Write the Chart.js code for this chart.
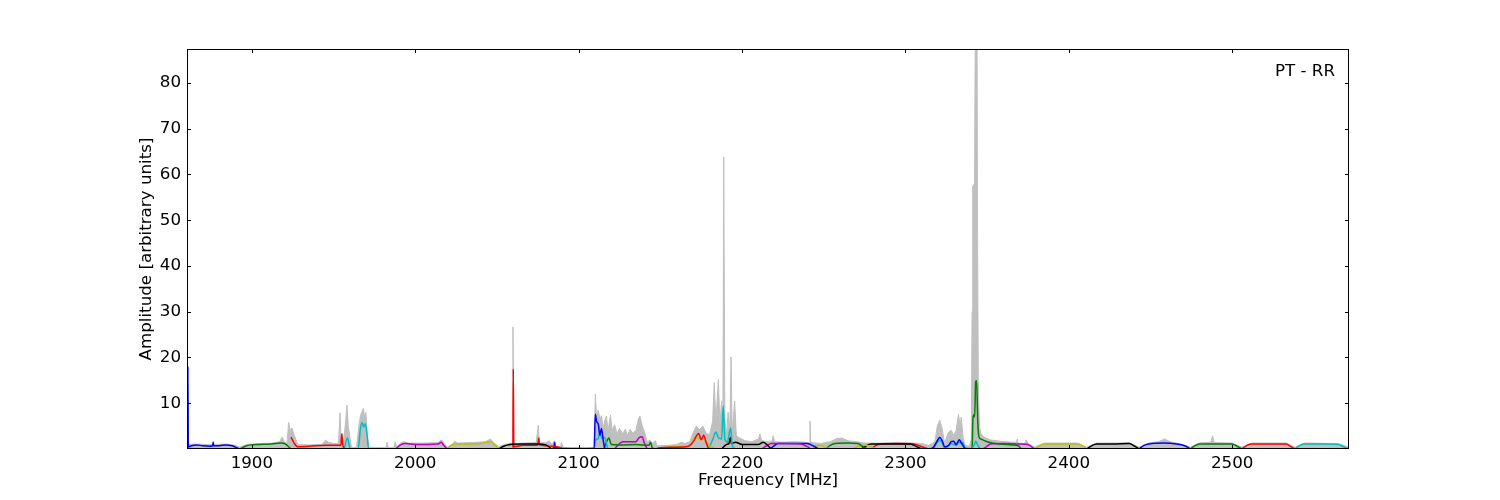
<!DOCTYPE html>
<html>
<head>
<meta charset="utf-8">
<script src="https://cdn.jsdelivr.net/npm/chart.js@4.4.0/dist/chart.umd.min.js"></script>
<style>
html, body { margin: 0; padding: 0; background: #fff; }
</style>
</head>
<body>
<canvas id="myChart" width="1500" height="500"></canvas>
<script>
// Axis limits and tick labels
const freqMin = 1860.3;
const freqMax = 2571.5;
const ampMax = 87.4;
const freqTicks = [1900, 2000, 2100, 2200, 2300, 2400, 2500];
const ampTicks = [10, 20, 30, 40, 50, 60, 70, 80];
const panelLabel = 'PT - RR';

// Grey envelope: [frequency MHz, amplitude]
const envelope = [
    [1860.8, 18], [1861.1, 1.0], [1866, 1.1], [1872, 1.0], [1876, 1.0], [1876.3, 1.7], [1876.6, 1.0],
    [1884, 1.1], [1890, 0.8], [1892.5, 0.4], [1897, 1.0], [1905, 1.2], [1912, 1.3], [1917, 1.6],
    [1918.5, 2.6], [1920, 1.5], [1921.5, 1.2], [1922.5, 5.8], [1923.5, 4.0], [1924.5, 4.6], [1926, 3.0],
    [1928, 1.0], [1935, 0.9], [1943, 1.0], [1945, 1.9], [1947, 1.5], [1950, 1.2], [1953, 1.2],
    [1954, 7.9], [1954.6, 2.0], [1955.5, 3.5], [1956, 1.0], [1957.5, 6.5], [1958.2, 9.6], [1959, 5.0],
    [1960, 2.5], [1961, 0.4], [1964, 0.3], [1965.5, 5.0], [1966.5, 7.4], [1967.5, 8.2], [1968.2, 8.9],
    [1969, 7.0], [1969.8, 8.0], [1970.5, 4.0], [1971.5, 0.4], [1982, 0.3], [1982.8, 1.5], [1983.5, 0.3],
    [1987, 0.3], [1987.8, 1.6], [1988.5, 0.4], [1991, 1.3], [1993, 1.6], [1996, 1.3], [2005, 1.3],
    [2014, 1.4], [2016, 2.0], [2017.5, 1.3], [2019.5, 0.4], [2023, 1.1], [2024, 1.7], [2026, 1.3],
    [2035, 1.4], [2043, 1.6], [2046, 2.2], [2048, 1.4], [2051, 0.5], [2055, 1.0], [2059.5, 1.3],
    [2059.8, 26.7], [2060.5, 1.2], [2066, 1.3], [2074, 1.4], [2075.3, 5.2], [2076, 1.3], [2080, 1.4],
    [2082, 1.8], [2083.5, 1.0], [2085.3, 1.8], [2086, 0.6], [2089, 0.5], [2089.5, 1.5], [2090.5, 0.4],
    [2095, 0.2], [2105, 0.2], [2109.5, 0.3], [2110.2, 12], [2111, 7], [2112, 8.5], [2113, 6.5],
    [2114, 7.3], [2115, 4.5], [2116, 6.3], [2117, 7.2], [2118, 4.0], [2119.5, 7.4], [2120.5, 4.0],
    [2122, 5.3], [2123.5, 3.3], [2125, 4.5], [2127, 3.3], [2128.5, 4.3], [2130, 3.0], [2131.5, 4.3],
    [2133, 3.5], [2135, 4.0], [2136.5, 6.5], [2137.5, 7.2], [2139, 5.0], [2140.5, 3.5], [2142, 1.5],
    [2143.5, 2.0], [2145, 1.2], [2147, 1.8], [2148, 0.7], [2155, 0.8], [2160, 1.0], [2163, 1.5],
    [2165, 1.2], [2168, 1.6], [2170, 3.5], [2172, 5.0], [2174, 4.2], [2176, 5.0], [2178, 3.5],
    [2180, 3.0], [2182, 6.0], [2183, 14.5], [2184, 6.0], [2185.5, 15.2], [2186.5, 5.5], [2187.5, 10.5],
    [2188.3, 5.0], [2188.8, 63.8], [2189.5, 6.5], [2190.5, 3.0], [2191.5, 8.0], [2192.5, 4.0],
    [2193.3, 20.1], [2194, 3.5], [2195.5, 10.5], [2196.5, 3.0], [2198, 2.5], [2202, 1.8], [2206, 1.6],
    [2210, 2.2], [2211, 3.3], [2212, 1.8], [2216, 1.6], [2218.5, 1.8], [2219, 2.9], [2220, 1.6],
    [2225, 1.5], [2232, 1.6], [2238, 1.5], [2241.3, 1.4], [2241.6, 6.1], [2242, 1.4], [2248, 1.2],
    [2254, 1.6], [2258, 2.3], [2261, 2.4], [2265, 1.8], [2270, 1.6], [2275, 1.3], [2285, 1.3],
    [2295, 1.4], [2305, 1.3], [2310, 1.2], [2314, 0.8], [2318, 1.5], [2319.5, 5.0], [2321, 6.3],
    [2322.5, 4.5], [2324, 1.2], [2326, 3.5], [2328, 4.1], [2329.5, 3.0], [2331, 4.0], [2332.5, 7.6],
    [2333.5, 5.0], [2334.2, 7.0], [2335.3, 2.5], [2336.5, 0.8], [2339, 0.6], [2340.3, 2.0],
    [2340.8, 30], [2341.2, 57.3], [2342.3, 58], [2342.8, 95], [2343.8, 95], [2344.2, 45], [2344.6, 15],
    [2345.3, 5.0], [2346, 3.5], [2348, 2.6], [2352, 2.0], [2358, 1.7], [2365, 1.5], [2368, 1.5],
    [2368.5, 2.2], [2369, 1.3], [2373, 1.2], [2374, 2.0], [2375, 1.2], [2379, 0.4], [2385, 1.3],
    [2395, 1.3], [2405, 1.3], [2411, 0.4], [2417, 1.3], [2430, 1.3], [2437, 1.4], [2443, 0.4],
    [2449, 1.3], [2455, 1.6], [2458.5, 2.2], [2462, 1.6], [2466, 1.3], [2474.5, 0.4], [2480, 1.3],
    [2487, 1.5], [2488, 2.9], [2489, 1.4], [2500, 1.3], [2506, 0.4], [2512, 1.3], [2533, 1.3],
    [2538.5, 0.4], [2544, 1.3], [2565, 1.2], [2571.5, 0.4]
];

// Coloured sub-band curves: [frequency MHz, amplitude]
const blue1 = [[1860.8, 0], [1860.8, 18], [1861.1, 0.5], [1863, 0.7], [1866, 0.9], [1870, 0.7], [1874, 0.6], [1876, 0.7],
    [1876.3, 1.4], [1876.6, 0.7], [1880, 0.7], [1884, 0.9], [1888, 0.7], [1890, 0.4], [1892.5, 0]];
const green1 = [[1892.5, 0], [1896, 0.6], [1899, 0.9], [1905, 1.0], [1912, 1.1], [1918, 1.3], [1920, 1.2], [1924, 0]];
const red1 = [[1924, 2.6], [1926, 1.2], [1928, 0.5], [1935, 0.6], [1945, 0.8], [1950, 0.8], [1954.5, 0.8],
    [1955, 3.3], [1955.5, 1.2], [1956.5, 0]];
const cyan1 = [[1956.5, 0], [1958.5, 2.4], [1960, 0.2], [1961, 0], [1965, 0], [1966.5, 4.5], [1967.5, 5.8],
    [1968.5, 4.8], [1969.5, 5.5], [1970.5, 3.0], [1971.5, 0], [1988, 0]];
const magenta1 = [[1988, 0], [1991, 0.9], [1994, 1.2], [2000, 1.0], [2008, 1.0], [2014, 1.1], [2016, 1.5],
    [2017, 1.0], [2019.5, 0]];
const yellow1 = [[2019.5, 0], [2022, 0.8], [2025, 1.1], [2032, 1.1], [2040, 1.2], [2046, 1.6], [2048, 1.1], [2051, 0]];
const black1 = [[2051, 0], [2054, 0.6], [2058, 1.0], [2065, 1.1], [2075, 1.1], [2080, 0.9], [2083.5, 0]];
const red2 = [[2059.8, 0.3], [2060, 17.5], [2060.3, 0.5], [2066, 0.8], [2075, 0.9], [2075.6, 2.4], [2076, 0.9],
    [2085, 0.6], [2091, 0]];
const blue2 = [[2083.5, 0], [2085, 0.5], [2085.3, 1.5], [2085.6, 0.4], [2092, 0.1], [2109.5, 0.1], [2110.2, 7.6],
    [2111, 6.0], [2112, 5.5], [2113, 3.0], [2114, 4.5], [2115, 2.0], [2116, 0]];
const cyan2 = [[2109.5, 0], [2110.5, 2.0], [2112, 2.3], [2113, 3.8], [2114, 2.4], [2116, 2.5], [2117.5, 0.5], [2118, 0]];
const green2 = [[2115.5, 0], [2117, 1.5], [2118.5, 2.4], [2120, 1.0], [2125, 0.9], [2135, 1.0], [2143, 0.8],
    [2144, 1.5], [2145, 0.3], [2147, 0]];
const magenta2 = [[2122, 0], [2125, 1.2], [2127.5, 1.6], [2132, 1.6], [2135, 1.6], [2137, 2.5], [2139, 2.7],
    [2140, 1.5], [2142, 0]];
const red3 = [[2147, 0], [2150, 0.3], [2157, 0.4], [2166, 0.5], [2170, 1.5], [2172, 2.8], [2173.5, 3.4],
    [2175, 2.0], [2176.5, 3.0], [2178, 1.5], [2179.5, 0]];
const yellow2 = [[2149, 0], [2152, 0.3], [2160, 0.5], [2168, 0.6], [2170, 1.8], [2172, 2.4], [2176, 2.4],
    [2178, 1.5], [2181, 0.5], [2184, 0]];
const cyan3 = [[2179.5, 0], [2182, 2.0], [2184, 3.7], [2185.5, 2.5], [2187.5, 2.2], [2188.5, 9.4], [2189.5, 2.0],
    [2191, 1.5], [2193, 4.6], [2194, 0.8], [2196, 0]];
const black2 = [[2187.5, 0], [2190.5, 1.0], [2192, 1.2], [2192.8, 2.5], [2193.5, 1.2], [2196, 1.5], [2200, 1.0],
    [2210, 1.0], [2213, 1.5], [2215, 1.0], [2218, 0]];
const magenta3 = [[2212, 0], [2215, 0.7], [2218, 1.2], [2225, 1.2], [2236, 1.1], [2240, 0.5], [2242, 0]];
const blue3 = [[2217, 0], [2220, 0.8], [2222, 1.2], [2230, 1.2], [2240, 1.2], [2244, 0.6], [2247, 0]];
const yellow3 = [[2242.5, 0], [2245, 0.6], [2248, 0.8], [2251, 0.3], [2253, 0]];
const green3 = [[2251, 0], [2254, 0.8], [2257, 1.2], [2265, 1.3], [2271, 1.2], [2274, 0.5], [2277, 0]];
const yellow4 = [[2268, 0], [2271, 0.6], [2276, 0.8], [2280, 0.3], [2283, 0]];
const black3 = [[2273, 0], [2276, 0.7], [2279, 1.1], [2290, 1.1], [2303, 1.1], [2307, 0.5], [2310, 0]];
const red4 = [[2279, 0], [2282, 0.8], [2285, 1.1], [2295, 1.2], [2305, 1.1], [2310, 0.5], [2314, 0]];
const blue4 = [[2314, 0], [2317, 0.3], [2319.5, 1.8], [2321, 2.5], [2322.5, 1.8], [2324, 0.5], [2326.5, 0.8],
    [2328, 1.6], [2329.5, 1.7], [2331, 1.0], [2333, 2.0], [2334.5, 1.2], [2336.5, 0]];
const cyan4 = [[2314, 0], [2317, 0.2], [2319.5, 1.4], [2321, 1.9], [2322.5, 1.3], [2324, 0.2], [2326, 0.6],
    [2328, 1.2], [2329.5, 1.0], [2331, 0.8], [2333, 1.6], [2334, 1.2], [2335, 1.4], [2336.5, 0.3],
    [2340, 0.1], [2342, 0.8], [2343, 1.7], [2344, 1.0], [2345.5, 0.2], [2347.5, 0]];
const green4 = [[2339.5, 0], [2340.8, 0.3], [2341.3, 6.3], [2341.8, 7.5], [2342.4, 7.0], [2343, 14.7],
    [2343.6, 14.9], [2344.3, 6.0], [2345, 2.7], [2346, 2.2], [2350, 1.6], [2357, 1.1], [2365, 0.9],
    [2369, 0.7], [2371, 0]];
const magenta4 = [[2347.5, 0], [2350, 0.6], [2352, 1.1], [2360, 1.2], [2370, 1.1], [2375, 1.0], [2379, 0]];
const yellow5 = [[2379, 0], [2382, 0.7], [2385, 1.1], [2395, 1.1], [2405, 1.1], [2408, 0.8], [2411, 0]];
const black4 = [[2411, 0], [2414, 0.7], [2417, 1.1], [2427, 1.1], [2437, 1.2], [2440, 0.7], [2443, 0]];
const blue5 = [[2443, 0], [2446, 0.8], [2449, 1.1], [2458, 1.3], [2466, 1.1], [2471, 0.7], [2474.5, 0]];
const green5 = [[2474.5, 0], [2477, 0.7], [2480, 1.1], [2490, 1.1], [2500, 1.1], [2503, 0.6], [2506, 0]];
const red5 = [[2506, 0], [2509, 0.8], [2512, 1.1], [2522, 1.1], [2533, 1.1], [2536, 0.5], [2538.5, 0]];
const cyan5 = [[2538.5, 0], [2541, 0.7], [2544, 1.1], [2555, 1.1], [2565, 1.0], [2568, 0.5], [2571.5, 0]];

// matplotlib classic colours
const colors = { b: '#0000ff', g: '#008000', r: '#ff0000', c: '#00bfbf', m: '#bf00bf', y: '#bfbf00', k: '#000000' };

const curves = [
    [blue1, 'b'], [green1, 'g'], [red1, 'r'], [cyan1, 'c'], [magenta1, 'm'], [yellow1, 'y'], [black1, 'k'],
    [red2, 'r'], [blue2, 'b'], [cyan2, 'c'], [green2, 'g'], [magenta2, 'm'], [red3, 'r'], [yellow2, 'y'],
    [cyan3, 'c'], [black2, 'k'], [magenta3, 'm'], [blue3, 'b'], [yellow3, 'y'], [green3, 'g'], [yellow4, 'y'],
    [black3, 'k'], [red4, 'r'], [blue4, 'b'], [cyan4, 'c'], [green4, 'g'], [magenta4, 'm'], [yellow5, 'y'],
    [black4, 'k'], [blue5, 'b'], [green5, 'g'], [red5, 'r'], [cyan5, 'c']
];

function toPoints(arr) {
    return arr.map(p => ({ x: p[0], y: p[1] }));
}

const datasets = [{
    data: toPoints(envelope),
    borderColor: '#bfbfbf',
    backgroundColor: '#bfbfbf',
    borderWidth: 1,
    fill: 'origin',
    pointRadius: 0,
    tension: 0,
    clip: 0,
    order: 2
}];
curves.forEach(c => {
    datasets.push({
        data: toPoints(c[0]),
        borderColor: colors[c[1]],
        borderWidth: 1.5,
        fill: false,
        pointRadius: 0,
        cubicInterpolationMode: 'monotone',
        clip: 0,
        order: 1
    });
});

// Frame, inward ticks on all four sides, and the corner label
const framePlugin = {
    id: 'frame',
    afterDatasetsDraw(chart) {
        const ctx = chart.ctx;
        const a = chart.chartArea;
        const xs = chart.scales.x, ys = chart.scales.y;
        ctx.save();
        ctx.strokeStyle = '#000';
        ctx.lineWidth = 1;
        ctx.beginPath();
        freqTicks.forEach(v => {
            const px = Math.round(xs.getPixelForValue(v)) + 0.5;
            ctx.moveTo(px, a.bottom); ctx.lineTo(px, a.bottom - 4);
            ctx.moveTo(px, a.top); ctx.lineTo(px, a.top + 4);
        });
        ampTicks.forEach(v => {
            const py = Math.round(ys.getPixelForValue(v)) + 0.5;
            ctx.moveTo(a.left, py); ctx.lineTo(a.left + 4, py);
            ctx.moveTo(a.right, py); ctx.lineTo(a.right - 4, py);
        });
        ctx.stroke();
        ctx.strokeRect(Math.round(a.left) + 0.5, Math.round(a.top) + 0.5,
            Math.round(a.right - a.left) - 1, Math.round(a.bottom - a.top) - 1);
        ctx.fillStyle = '#000';
        ctx.font = '16.7px "DejaVu Sans"';
        ctx.textAlign = 'right';
        ctx.textBaseline = 'alphabetic';
        ctx.fillText(panelLabel, a.right - 14, a.top + 26.5);
        ctx.restore();
    }
};

Chart.defaults.font.family = '"DejaVu Sans", sans-serif';
Chart.defaults.font.size = 16.7;
Chart.defaults.color = '#000';

const ctx = document.getElementById('myChart').getContext('2d');
const myChart = new Chart(ctx, {
    type: 'line',
    data: { datasets: datasets },
    options: {
        responsive: false,
        animation: false,
        events: [],
        layout: { padding: { left: 130, right: 151, top: 49, bottom: 0 } },
        plugins: { legend: { display: false }, tooltip: { enabled: false } },
        scales: {
            x: {
                type: 'linear',
                min: freqMin,
                max: freqMax,
                ticks: { stepSize: 100, padding: 5, maxRotation: 0, callback: v => String(v) },
                afterBuildTicks: s => { s.ticks = freqTicks.map(v => ({ value: v })); },
                afterFit: s => { s.height = 51; },
                grid: { display: false, drawTicks: false },
                border: { display: false },
                title: { display: true, text: 'Frequency [MHz]', padding: { top: 0, bottom: 9 } }
            },
            y: {
                min: 0,
                max: ampMax,
                ticks: { stepSize: 10, padding: 6, callback: v => String(v) },
                afterBuildTicks: s => { s.ticks = ampTicks.map(v => ({ value: v })); },
                afterFit: s => { s.width = 57; },
                grid: { display: false, drawTicks: false },
                border: { display: false },
                title: { display: true, text: 'Amplitude [arbitrary units]', padding: { top: 7, bottom: 0 } }
            }
        }
    },
    plugins: [framePlugin]
});
</script>
</body>
</html>
